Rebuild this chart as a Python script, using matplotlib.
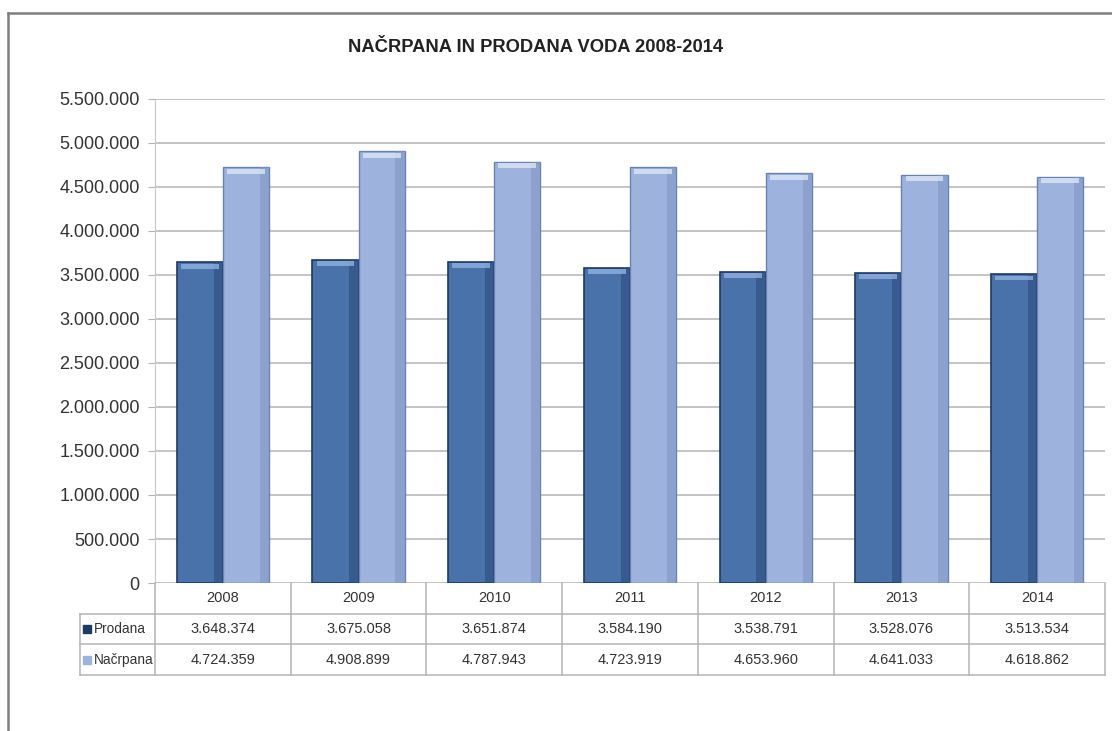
import matplotlib.pyplot as plt
import matplotlib.lines as mlines
import numpy as np

plt.rcParams['font.family'] = ['Liberation Sans', 'DejaVu Sans']

# data
years = ['2008', '2009', '2010', '2011', '2012', '2013', '2014']
prodana = [3648374, 3675058, 3651874, 3584190, 3538791, 3528076, 3513534]
nacrpana = [4724359, 4908899, 4787943, 4723919, 4653960, 4641033, 4618862]
series_names = ['Prodana', 'Načrpana']
title = 'NAČRPANA IN PRODANA VODA 2008-2014'

col_prod = '#4a72aa'
col_prod_edge = '#1e3a62'
col_nac = '#9db3dd'
col_nac_edge = '#6a82b2'


def fmt(v):
    return f'{v:,}'.replace(',', '.')


W, H = 1112, 731
fig = plt.figure(figsize=(W / 100, H / 100), dpi=100)

# outer frame (top and left only, like the screenshot)
fig.add_artist(mlines.Line2D([8 / W, 1], [1 - 13 / H, 1 - 13 / H], transform=fig.transFigure,
                             color='#7f7f7f', lw=1.8))
fig.add_artist(mlines.Line2D([8 / W, 8 / W], [0, 1 - 13 / H], transform=fig.transFigure,
                             color='#7f7f7f', lw=1.8))

ax_l, ax_r, ax_b, ax_t = 155, 1105, 583, 99
ax = fig.add_axes([ax_l / W, 1 - ax_b / H, (ax_r - ax_l) / W, (ax_b - ax_t) / H])

x = np.arange(len(years))
bw = 0.34
ax.bar(x - bw / 2, prodana, bw, color=col_prod, edgecolor=col_prod_edge, lw=1.2, zorder=3)
ax.bar(x + bw / 2, nacrpana, bw, color=col_nac, edgecolor=col_nac_edge, lw=1.0, zorder=3)

# fake bevel: darker right strip and light top strip
for xs, vals, dark, light in [(x - bw / 2, prodana, '#2b4c7e', '#8fb0e0'),
                              (x + bw / 2, nacrpana, '#7f97c6', '#dbe6f7')]:
    ax.bar(xs + bw * 0.40, vals, bw * 0.2, color=dark, lw=0, zorder=4, alpha=0.6)
    ax.bar(xs, np.full(len(vals), 55000), bw * 0.82, bottom=np.array(vals) - 75000,
           color=light, lw=0, zorder=4, alpha=0.8)

ax.set_xlim(-0.5, len(years) - 0.5)
ax.set_ylim(0, 5500000)
ax.set_yticks(np.arange(0, 5500001, 500000))
ax.set_yticklabels([fmt(v) for v in range(0, 5500001, 500000)], fontsize=13, color='#333333')
ax.set_xticks([])
ax.yaxis.grid(True, color='#b4b4b4', lw=1.1, zorder=0)
ax.tick_params(axis='y', length=5, color='#b4b4b4', pad=6)
for s in ['top', 'right', 'bottom']:
    ax.spines[s].set_visible(False)
ax.spines['left'].set_color('#c8c8c8')
ax.set_axisbelow(True)

fig.text(536 / W, 1 - 47 / H, title, ha='center', va='center', fontsize=13.2,
         fontweight='bold', color='#222222')

# data table underneath
tb_l, tb_b = 80, 675
tax = fig.add_axes([tb_l / W, 1 - tb_b / H, (ax_r - tb_l) / W, (tb_b - ax_b) / H])
cat_w = (ax_r - ax_l) / len(years)
x0 = -0.5 - (ax_l - tb_l) / cat_w
tax.set_xlim(x0, len(years) - 0.5)
tax.set_ylim(0, 3)
tax.axis('off')
lc = '#b4b4b4'
for yy in [0, 1, 2]:
    tax.plot([x0, len(years) - 0.5], [yy, yy], color=lc, lw=1.1, clip_on=False)
tax.plot([x0, x0], [0, 2], color=lc, lw=1.1, clip_on=False)
for k in range(len(years) + 1):
    tax.plot([k - 0.5, k - 0.5], [0, 3], color=lc, lw=1.1, clip_on=False)
for i, yr in enumerate(years):
    tax.text(i, 2.5, yr, ha='center', va='center', fontsize=10.5, color='#333333')
    tax.text(i, 1.5, fmt(prodana[i]), ha='center', va='center', fontsize=10.5, color='#333333')
    tax.text(i, 0.5, fmt(nacrpana[i]), ha='center', va='center', fontsize=10.5, color='#333333')
for yy, name, c in [(1.5, series_names[0], col_prod_edge), (0.5, series_names[1], col_nac)]:
    tax.plot([x0 + 0.055], [yy], marker='s', ms=5.5, color=c, mec=c, clip_on=False)
    tax.text(x0 + 0.1, yy, name, ha='left', va='center', fontsize=9.8, color='#333333')

fig.savefig('out.png', dpi=100, facecolor='white')
